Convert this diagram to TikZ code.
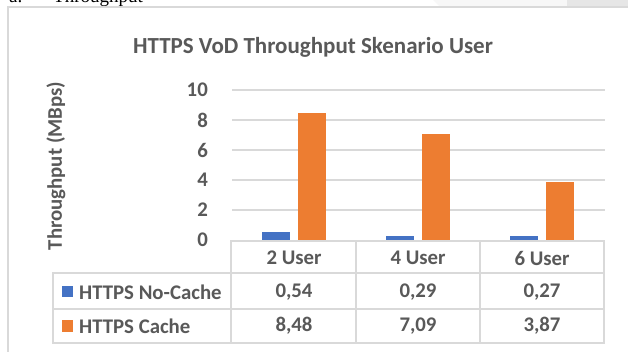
\documentclass[tikz,border=0pt]{standalone}
\usepackage{fontspec}
\setmainfont{Carlito}
\newfontfamily\serifa{Liberation Serif}
\definecolor{txt}{HTML}{595959}
\definecolor{gridc}{HTML}{D9D9D9}
\definecolor{bblue}{HTML}{4472C4}
\definecolor{borange}{HTML}{ED7D31}
\definecolor{lgray}{HTML}{F7F7F7}
\definecolor{dgray}{HTML}{E6E6E6}
\begin{document}
\begin{tikzpicture}[x=1pt,y=-1pt,
  lbl/.style={text=txt,font=\bfseries\fontsize{20.8}{23}\selectfont,inner sep=0pt},
  gline/.style={draw=gridc,line width=1.3pt},
  tline/.style={draw=gridc,line width=1.3pt},
  bluebar/.style={fill=bblue,draw=none},
  orangebar/.style={fill=borange,draw=none}]
\useasboundingbox (0,0) rectangle (628,352);
\fill[white] (0,0) rectangle (628,352);
% top strip
\fill[lgray] (433,0) -- (440,7) -- (628,7) -- (628,0) -- cycle;
\fill[dgray] (567,0) rectangle (628,7);
\node[anchor=base west,inner sep=0pt,font=\serifa\fontsize{19}{21}\selectfont] (capa) at (9,3) {a.};
\node[anchor=base west,inner sep=0pt,font=\serifa\fontsize{19}{21}\selectfont] (capb) at (53,3) {Throughput};
% chart frame
\draw[gridc,line width=1.3pt] (8,360) -- (8,7) -- (640,7);
% title
\node[lbl,font=\bfseries\fontsize{23}{25}\selectfont] (title) at (313,47) {HTTPS VoD Throughput Skenario User};
% y label
\node[lbl,rotate=90] (ylab) at (56,166) {Throughput (MBps)};
% gridlines and ticks
\foreach \v in {2,4,6,8,10} {
  \draw[gline] (232,{240-15*\v}) -- (605,{240-15*\v});
}
\foreach \v in {0,2,4,6,8,10} {
  \node[lbl,anchor=east] (t\v) at (208,{240-15*\v}) {\v};
}
% bars
\foreach \cx/\b/\o [count=\i] in {294/0.54/8.48, 418/0.29/7.09, 542/0.27/3.87} {
  \fill[bluebar] ({\cx-32},240) rectangle ({\cx-4},{240-15*\b});
  \fill[orangebar] ({\cx+4},240) rectangle ({\cx+32},{240-15*\o});
}
% data table
\draw[tline] (231,241) rectangle (604,273);
\draw[tline] (53,273) rectangle (604,343);
\draw[tline] (53,309) -- (604,309);
\draw[tline] (231,241) -- (231,343);
\draw[tline] (356,241) -- (356,343);
\draw[tline] (480,241) -- (480,343);
\node[lbl] (h1) at (294,258) {2 User};
\node[lbl] (h2) at (418,258) {4 User};
\node[lbl] (h3) at (542,258) {6 User};
\fill[bblue] (62,286) rectangle (73,297);
\fill[borange] (62,320) rectangle (73,332);
\node[lbl,anchor=west] (r1) at (79,292) {HTTPS No-Cache};
\node[lbl,anchor=west] (r2) at (79,326) {HTTPS Cache};
\node[lbl] (v11) at (294,292) {0,54};
\node[lbl] (v12) at (418,292) {0,29};
\node[lbl] (v13) at (542,292) {0,27};
\node[lbl] (v21) at (294,326) {8,48};
\node[lbl] (v22) at (418,326) {7,09};
\node[lbl] (v23) at (542,326) {3,87};
\end{tikzpicture}
\end{document}
